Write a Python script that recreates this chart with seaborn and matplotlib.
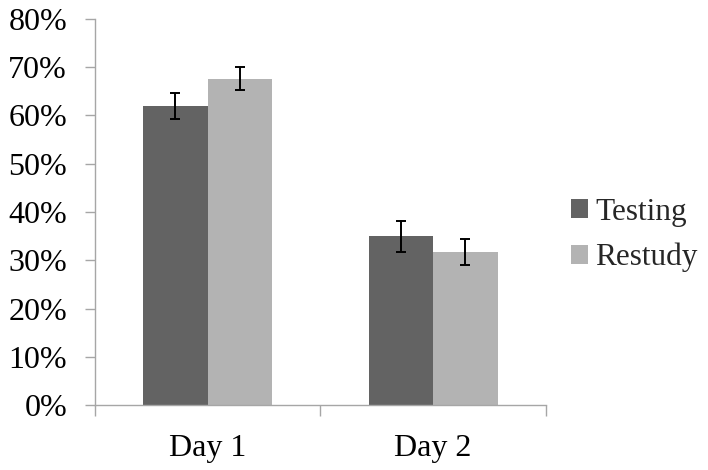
import matplotlib
matplotlib.use("Agg")
import matplotlib.pyplot as plt
import seaborn as sns
import pandas as pd
from matplotlib.ticker import PercentFormatter
from matplotlib.patches import Patch

days = ["Day 1", "Day 2"]
conditions = ["Testing", "Restudy"]
testing = [62.0, 35.0]
restudy = [67.6, 31.7]
testing_err = [2.7, 3.2]
restudy_err = [2.4, 2.7]
colors = ["#636363", "#b3b3b3"]

df = pd.DataFrame({
    "day": days * 2,
    "condition": [conditions[0]] * 2 + [conditions[1]] * 2,
    "value": testing + restudy,
    "err": testing_err + restudy_err,
})

sns.set_theme(style="white")
plt.rcParams["font.family"] = ["Liberation Serif", "DejaVu Serif"]

FS = 23
fig = plt.figure(figsize=(7.08, 4.70), dpi=100)
ax = fig.add_axes([0.134, 0.138, 0.637, 0.822])

sns.barplot(data=df, x="day", y="value", hue="condition", order=days,
            hue_order=conditions, palette=colors, errorbar=None,
            width=0.573, gap=0, saturation=1, ax=ax, legend=False,
            linewidth=0, edgecolor="none")

for cont, cond in zip(ax.containers, conditions):
    sub = df[df["condition"] == cond].set_index("day").loc[days]
    xs = [p.get_x() + p.get_width() / 2 for p in cont.patches]
    ax.errorbar(xs, sub["value"], yerr=sub["err"], fmt="none",
                ecolor="black", elinewidth=1.4, capsize=3.5, capthick=1.4)

ax.set_ylim(0, 80)
ax.set_yticks(range(0, 81, 10))
ax.yaxis.set_major_formatter(PercentFormatter(decimals=0))
ax.set_xlim(-0.5, 1.5)
ax.set_xticks([-0.5, 0.5, 1.5], minor=False)
ax.set_xticklabels([])
ax.set_xticks([0, 1], minor=True)
ax.set_xticklabels(days, minor=True)
ax.set_xlabel("")
ax.set_ylabel("")

for s in ["top", "right"]:
    ax.spines[s].set_visible(False)
for s in ["left", "bottom"]:
    ax.spines[s].set_color("#a6a6a6")
    ax.spines[s].set_linewidth(1.0)

ax.tick_params(axis="y", which="major", left=True, direction="out", length=7,
               width=1.0, color="#a6a6a6", labelsize=FS, pad=13, labelcolor="black")
ax.tick_params(axis="x", which="major", bottom=True, direction="out", length=8,
               width=1.0, color="#a6a6a6")
ax.tick_params(axis="x", which="minor", bottom=False, labelsize=FS, pad=17,
               labelcolor="black")

handles = [Patch(facecolor=c, edgecolor="none") for c in colors]
fig.legend(handles, conditions, loc="center left", bbox_to_anchor=(0.806, 0.500),
           frameon=False, fontsize=22.5, handlelength=0.56, handleheight=0.56,
           handletextpad=0.22, labelspacing=0.5, borderpad=0, borderaxespad=0)

fig.savefig("out.png", dpi=100)
